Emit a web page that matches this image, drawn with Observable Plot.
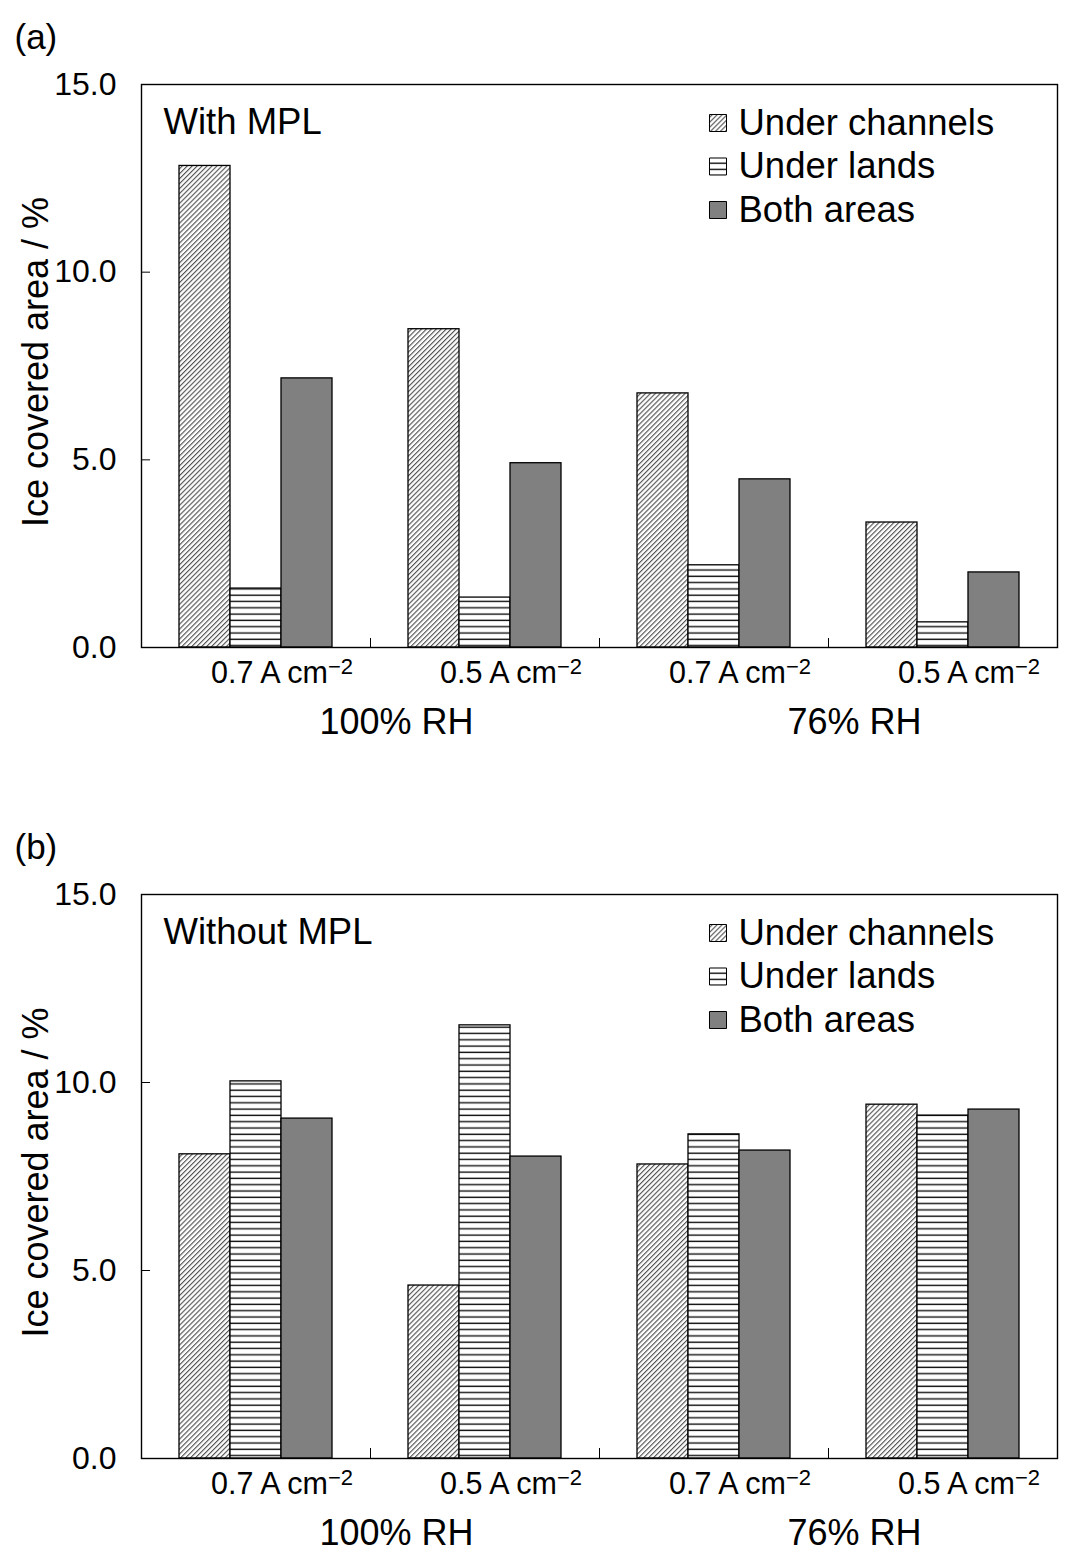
<!DOCTYPE html>
<html>
<head>
<meta charset="utf-8">
<script src="https://cdn.jsdelivr.net/npm/d3@7"></script>
<script src="https://cdn.jsdelivr.net/npm/@observablehq/plot@0.6"></script>
<style>
  body { margin: 0; background: #fff; font-family: "Liberation Sans", Arial, sans-serif; }
  #charts svg { display: block; }
</style>
</head>
<body>
<svg width="0" height="0" style="position:absolute">
  <defs>
    <pattern id="hatchDiag" patternUnits="userSpaceOnUse" width="3.5" height="3.5" patternTransform="rotate(45)">
      <rect width="3.5" height="3.5" fill="#fff"></rect>
      <line x1="0.6" y1="0" x2="0.6" y2="3.5" stroke="#3a3a3a" stroke-width="1"></line>
    </pattern>
    <pattern id="hatchHoriz" patternUnits="userSpaceOnUse" width="8" height="6.3">
      <rect width="8" height="6.3" fill="#fff"></rect>
      <line x1="0" y1="3" x2="8" y2="3" stroke="#111" stroke-width="1.4"></line>
    </pattern>
  </defs>
</svg>
<div id="charts"></div>
<script>
// ---- data ----
const groupKeys = ["100% RH / 0.7", "100% RH / 0.5", "76% RH / 0.7", "76% RH / 0.5"];
const groupLabels = ["0.7 A cm", "0.5 A cm", "0.7 A cm", "0.5 A cm"];
const unitExponent = "−2";
const rhLabels = ["100% RH", "76% RH"];
const rhFirstGroup = ["100% RH / 0.7", "76% RH / 0.7"];
const seriesNames = ["Under channels", "Under lands", "Both areas"];
const seriesFills = ["url(#hatchDiag)", "url(#hatchHoriz)", "#808080"];
const yTicks = [0, 5, 10, 15];
const yTitle = "Ice covered area / %";

const withMPL_channels = [12.83, 8.48, 6.77, 3.33];
const withMPL_lands    = [1.57, 1.33, 2.19, 0.67];
const withMPL_both     = [7.17, 4.91, 4.48, 2.00];

const withoutMPL_channels = [8.09, 4.60, 7.82, 9.41];
const withoutMPL_lands    = [10.03, 11.52, 8.62, 9.12];
const withoutMPL_both     = [9.04, 8.03, 8.19, 9.28];

function toRows(arrays) {
  const rows = [];
  groupKeys.forEach((g, gi) => {
    seriesNames.forEach((s, si) => rows.push({group: g, series: s, value: arrays[si][gi], fill: seriesFills[si]}));
  });
  return rows;
}

const font = "Liberation Sans, Arial, Helvetica, sans-serif";

function panel(rows, tag, note, height, marginBottom) {
  const legendMarks = seriesNames.flatMap((s, i) => [
    Plot.dot([s], {facet: "super", frameAnchor: "top-left", dx: 576.5, dy: 38.5 + i * 43.5,
      symbol: "square", r: 9.6, fill: seriesFills[i], stroke: "#000", strokeWidth: 1}),
    Plot.text([s], {facet: "super", frameAnchor: "top-left", dx: 597, dy: 38.5 + i * 43.5,
      text: d => d, textAnchor: "start", lineAnchor: "middle", fontSize: 36.5, fill: "#000"})
  ]);
  const svg = Plot.plot({
    width: 1065, height,
    marginLeft: 140, marginRight: 7, marginTop: 84, marginBottom,
    style: {fontFamily: font, background: "#fff", overflow: "visible", color: "#000"},
    fx: {domain: groupKeys, padding: 0},
    x: {domain: seriesNames, paddingInner: 0, paddingOuter: 0.728, axis: null},
    y: {domain: [0, 15]},
    color: {type: "identity"},
    marks: [
      Plot.barY(rows, {fx: "group", x: "series", y: "value", fill: "fill", stroke: "#000", strokeWidth: 1.3}),
      Plot.frame({facet: "super", stroke: "#000", strokeWidth: 1.4}),
      // short inward ticks at group boundaries
      Plot.frame({anchor: "left", insetTop: 554, stroke: "#000", strokeWidth: 1}),
      // y axis: labels and inward ticks
      Plot.axisY({ticks: yTicks, tickSize: 0, tickPadding: 25, fontSize: 32, tickFormat: d3.format(".1f"), label: null}),
      Plot.axisY({ticks: [5, 10], tickSize: 9, dx: 9, tickFormat: () => "", label: null, strokeWidth: 1}),
      // category labels
      Plot.axisFx({anchor: "bottom", tickSize: 0, tickPadding: 14, fontSize: 30.5, dx: 26, label: null,
        tickFormat: g => groupLabels[groupKeys.indexOf(g)], className: "cat-axis"}),
      // RH group labels
      Plot.text(rhLabels.map((t, i) => ({group: rhFirstGroup[i], t})), {fx: "group", text: "t",
        frameAnchor: "bottom-right", textAnchor: "middle", lineAnchor: "middle", dx: 26, dy: 75, fontSize: 36, fill: "#000"}),
      // y title
      Plot.text([yTitle], {facet: "super", frameAnchor: "left", rotate: -90, dx: -105, dy: -4, text: d => d,
        textAnchor: "middle", lineAnchor: "middle", fontSize: 36, fill: "#000"}),
      // panel tag
      Plot.text([tag], {facet: "super", frameAnchor: "top-left", dx: -127, dy: -47, text: d => d,
        textAnchor: "start", lineAnchor: "middle", fontSize: 35, fill: "#000"}),
      // note
      Plot.text([note], {facet: "super", frameAnchor: "top-left", dx: 22, dy: 38, text: d => d,
        textAnchor: "start", lineAnchor: "middle", fontSize: 36.5, fill: "#000"}),
      ...legendMarks
    ]
  });
  // add the superscript exponent to the unit of each category label
  d3.select(svg).selectAll(".cat-axis text").each(function () {
    const t = d3.select(this);
    if (groupLabels.includes(t.text())) {
      t.append("tspan").attr("dy", "-0.42em").attr("font-size", "0.72em").text(unitExponent);
    }
  });
  return svg;
}

const root = document.getElementById("charts");
root.append(panel(toRows([withMPL_channels, withMPL_lands, withMPL_both]), "(a)", "With MPL", 810, 163));
root.append(panel(toRows([withoutMPL_channels, withoutMPL_lands, withoutMPL_both]), "(b)", "Without MPL", 746, 98));
</script>
</body>
</html>
